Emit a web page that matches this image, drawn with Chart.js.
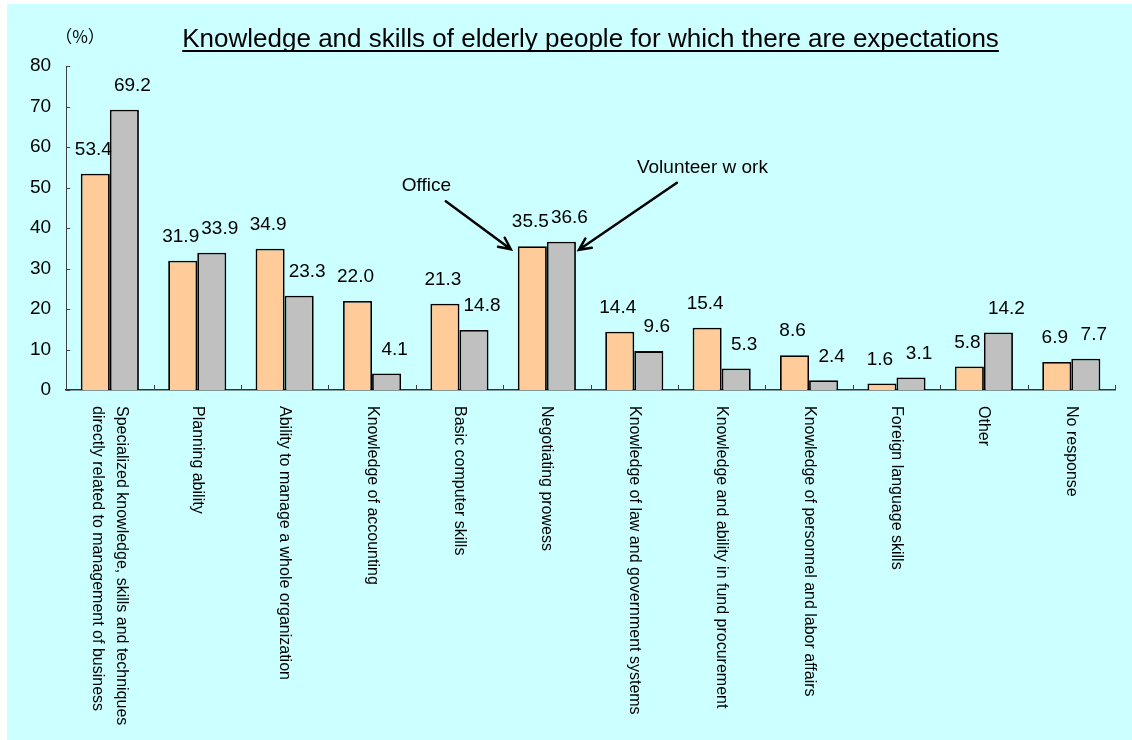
<!DOCTYPE html>
<html>
<head>
<meta charset="utf-8">
<title>Knowledge and skills of elderly people for which there are expectations</title>
<script src="https://cdn.jsdelivr.net/npm/chart.js@4.4.1/dist/chart.umd.min.js"></script>
<style>
    body { margin: 0; background: #ffffff; }
    #chartBox { width: 1132px; height: 740px; }
</style>
</head>
<body>
<div id="chartBox"><canvas id="skillsChart" width="1132" height="740"></canvas></div>
<script>
const categories = [
    ['Specialized knowledge, skills and techniques', 'directly related to management of business'],
    'Planning ability',
    'Ability to manage a whole organization',
    'Knowledge of accounting',
    'Basic computer skills',
    'Negotiating prowess',
    'Knowledge of law and government systems',
    'Knowledge and ability in fund procurement',
    'Knowledge of personnel and labor affairs',
    'Foreign language skills',
    'Other',
    'No response'
];
const officeValues = [53.4, 31.9, 34.9, 22.0, 21.3, 35.5, 14.4, 15.4, 8.6, 1.6, 5.8, 6.9];
const volunteerValues = [69.2, 33.9, 23.3, 4.1, 14.8, 36.6, 9.6, 5.3, 2.4, 3.1, 14.2, 7.7];
const seriesNames = ['Office', 'Volunteer w ork'];
const yTicks = [0, 10, 20, 30, 40, 50, 60, 70, 80];

const titleText = 'Knowledge and skills of elderly people for which there are expectations';
const FONT = '"Liberation Sans", Arial, sans-serif';

// background, title, ticks, value labels, category labels and arrows
const decorPlugin = {
    id: 'decor',
    beforeDraw(chart) {
        const ctx = chart.ctx;
        ctx.save();
        ctx.fillStyle = '#ccffff';
        ctx.fillRect(7, 4, chart.width - 7, chart.height - 4);
        ctx.restore();
    },
    afterDraw(chart) {
        const ctx = chart.ctx;
        const area = chart.chartArea;
        const xScale = chart.scales.x;
        const yScale = chart.scales.y;
        ctx.save();

        // title, underlined
        ctx.font = '26px ' + FONT;
        ctx.fillStyle = '#000';
        ctx.textAlign = 'center';
        ctx.textBaseline = 'alphabetic';
        const cx = (area.left + area.right) / 2;
        ctx.fillText(titleText, cx, 47);
        const w = ctx.measureText(titleText).width;
        ctx.fillRect(cx - w / 2, 50, w, 2);

        // unit
        ctx.font = '17px "Noto Sans CJK JP", ' + FONT;
        ctx.textBaseline = 'middle';
        ctx.fillText('（%）', 80, 37);

        // tick marks, pointing inwards
        ctx.strokeStyle = '#404040';
        ctx.lineWidth = 1;
        yTicks.forEach(v => {
            const y = Math.round(yScale.getPixelForValue(v)) + 0.5;
            ctx.beginPath();
            ctx.moveTo(area.left, y);
            ctx.lineTo(area.left + 4, y);
            ctx.stroke();
        });
        for (let i = 0; i <= categories.length; i++) {
            const x = Math.round(xScale.getPixelForValue(i - 0.5)) + 0.5;
            ctx.beginPath();
            ctx.moveTo(x, area.bottom);
            ctx.lineTo(x, area.bottom - 5);
            ctx.stroke();
        }

        // value labels
        ctx.font = '19px ' + FONT;
        ctx.fillStyle = '#000';
        ctx.textAlign = 'center';
        ctx.textBaseline = 'middle';
        chart.data.datasets.forEach((ds, di) => {
            const meta = chart.getDatasetMeta(di);
            const shift = di === 0 ? -2 : 8;
            meta.data.forEach((bar, i) => {
                ctx.fillText(ds.data[i].toFixed(1), bar.x + shift, bar.y - 24);
            });
        });

        // category labels, rotated clockwise
        ctx.font = '16px ' + FONT;
        ctx.textAlign = 'left';
        categories.forEach((label, i) => {
            const x = xScale.getPixelForValue(i);
            const lines = Array.isArray(label) ? label : [label];
            ctx.save();
            ctx.translate(x, area.bottom + 16);
            ctx.rotate(Math.PI / 2);
            lines.forEach((line, li) => {
                const off = (li - (lines.length - 1) / 2) * 24;
                ctx.fillText(line, 0, off);
            });
            ctx.restore();
        });

        // callout arrows for the negotiating prowess pair
        const k = categories.indexOf('Negotiating prowess');
        const ob = chart.getDatasetMeta(0).data[k];
        const vb = chart.getDatasetMeta(1).data[k];
        const oEnd = { x: ob.x - ob.width / 2 - 7, y: ob.y + 3 };
        const oStart = { x: oEnd.x - 65, y: oEnd.y - 48 };
        const vEnd = { x: vb.x + vb.width / 2 + 3, y: vb.y + 8 };
        const vStart = { x: vEnd.x + 98, y: vEnd.y - 67 };
        drawArrow(ctx, oStart, oEnd);
        drawArrow(ctx, vStart, vEnd);

        ctx.font = '19px ' + FONT;
        ctx.textAlign = 'left';
        ctx.textBaseline = 'middle';
        ctx.fillText(seriesNames[0], oStart.x - 44, oStart.y - 15);
        ctx.fillText(seriesNames[1], vStart.x - 40, vStart.y - 15);

        ctx.restore();
    }
};

function drawArrow(ctx, from, to) {
    const ang = Math.atan2(to.y - from.y, to.x - from.x);
    const head = 13;
    ctx.save();
    ctx.strokeStyle = '#000';
    ctx.lineWidth = 2.5;
    ctx.lineCap = 'round';
    ctx.beginPath();
    ctx.moveTo(from.x, from.y);
    ctx.lineTo(to.x, to.y);
    ctx.moveTo(to.x - head * Math.cos(ang - 0.45), to.y - head * Math.sin(ang - 0.45));
    ctx.lineTo(to.x, to.y);
    ctx.lineTo(to.x - head * Math.cos(ang + 0.45), to.y - head * Math.sin(ang + 0.45));
    ctx.stroke();
    ctx.restore();
}

function createSkillsChart() {
    const ctx = document.getElementById('skillsChart').getContext('2d');
    return new Chart(ctx, {
        type: 'bar',
        data: {
            labels: categories.map(c => Array.isArray(c) ? c.join(' ') : c),
            datasets: [{
                label: seriesNames[0],
                data: officeValues,
                backgroundColor: '#ffcc99',
                borderColor: '#000000',
                borderWidth: 1.8
            }, {
                label: seriesNames[1],
                data: volunteerValues,
                backgroundColor: '#c0c0c0',
                borderColor: '#000000',
                borderWidth: 1.8
            }]
        },
        options: {
            responsive: false,
            animation: false,
            layout: {
                padding: { left: 15, right: 17, top: 66, bottom: 342 }
            },
            datasets: {
                bar: { categoryPercentage: 0.665, barPercentage: 1 }
            },
            plugins: {
                legend: { display: false },
                tooltip: { enabled: false },
                title: { display: false }
            },
            scales: {
                x: {
                    grid: { display: false },
                    border: { display: true, color: '#333333', width: 1.5 },
                    ticks: { display: false }
                },
                y: {
                    min: 0,
                    max: 80,
                    grid: { display: false, drawTicks: false },
                    border: { display: true, color: '#404040', width: 1 },
                    afterBuildTicks: scale => {
                        scale.ticks = yTicks.map(v => ({ value: v }));
                    },
                    ticks: {
                        padding: 15,
                        color: '#000',
                        font: { family: FONT, size: 19 }
                    }
                }
            }
        },
        plugins: [decorPlugin]
    });
}

document.addEventListener('DOMContentLoaded', createSkillsChart);
</script>
</body>
</html>
